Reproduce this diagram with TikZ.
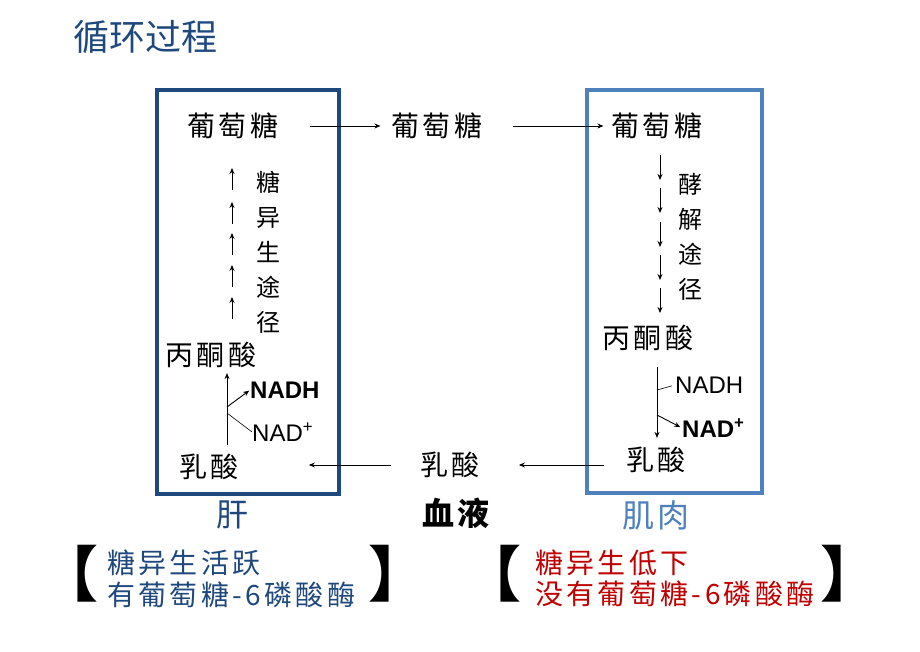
\documentclass[tikz,border=0pt]{standalone}
\usepackage{fontspec}
\setsansfont{Liberation Sans}
\newfontfamily\cjk[LetterSpace=12]{Noto Sans CJK SC}
\newfontfamily\cjktitle{Noto Sans CJK SC}
\usetikzlibrary{arrows.meta}
\definecolor{liverblue}{RGB}{31,73,125}
\definecolor{muscleblue}{RGB}{79,129,189}
\definecolor{lowred}{RGB}{192,0,0}

\begin{document}
\begin{tikzpicture}[x=1pt, y=-1pt, inner sep=0pt,
    chem/.style={font=\cjk\fontsize{28}{30}\selectfont},
    route/.style={font=\cjk\fontsize{24}{35}\selectfont, align=center},
    nad/.style={font=\sffamily\fontsize{24}{28}\selectfont, anchor=west},
    nadb/.style={font=\sffamily\bfseries\fontsize{24}{28}\selectfont, anchor=west},
    organ/.style={font=\cjk\fontsize{32}{36}\selectfont},
    note/.style={font=\cjk\fontsize{28}{32}\selectfont, anchor=west},
    brk/.style={font=\cjktitle\bfseries\fontsize{60}{60}\selectfont},
    arr/.style={-{Stealth[length=6pt,width=5pt]}, line width=0.9pt}]
    \useasboundingbox (0,0) rectangle (920,652);

    \node[font=\cjktitle\fontsize{36}{40}\selectfont, text=liverblue] (title) at (145,37) {循环过程};

    % organs
    \draw[liverblue, line width=3.5pt] (157,90) rectangle (339,494);
    \draw[muscleblue, line width=3.5pt] (587,90) rectangle (762,493);

    \node[chem] (gluL) at (233,126) {葡萄糖};
    \node[chem] (gluM) at (437,126) {葡萄糖};
    \node[chem] (gluR) at (657,126) {葡萄糖};
    \node[chem] (pyrL) at (211,355) {丙酮酸};
    \node[chem] (pyrR) at (648,338) {丙酮酸};
    \node[chem] (lacL) at (209,467) {乳酸};
    \node[chem] (lacM) at (450,465) {乳酸};
    \node[chem] (lacR) at (656,460) {乳酸};

    \node[route] (gng) at (268,252) {糖\\异\\生\\途\\径};
    \node[route] (gly) at (690,237) {酵\\解\\途\\径};

    \node[nadb] (nadhL) at (250,390) {NADH};
    \node[nad] (nadL) at (252,432) {NAD\textsuperscript{+}};
    \node[nad] (nadhR) at (675,385) {NADH};
    \node[nadb] (nadR) at (682,428) {NAD\textsuperscript{+}};

    \node[organ, text=liverblue] (liver) at (232,515) {肝};
    \node[organ, font=\cjk\bfseries\fontsize{32}{36}\selectfont] (blood) at (456,513) {血液};
    \node[organ, text=muscleblue] (muscle) at (656,515) {肌肉};

    \node[note, text=liverblue] (liverup) at (107,563) {糖异生活跃};
    \node[note, text=liverblue] (liverg6p) at (107,595) {有葡萄糖-6磷酸酶};
    \node[note, text=lowred] (muscleup) at (535,563) {糖异生低下};
    \node[note, text=lowred] (muscleg6p) at (535,594) {没有葡萄糖-6磷酸酶};

    \node[brk] (lbrkL) at (68,574) {【};
    \node[brk] (rbrkL) at (398,574) {】};
    \node[brk] (lbrkR) at (491,574) {【};
    \node[brk] (rbrkR) at (850,574) {】};

    % blood transport
    \draw[arr, shorten <=31pt, shorten >=11pt] (gluL.east) -- (gluM.west);
    \draw[arr, shorten <=30pt, shorten >=8pt] (gluM.east) -- (gluR.west);
    \draw[arr, shorten <=29pt, shorten >=70pt] (lacM.west) -- (lacL.east |- lacM.west);
    \draw[arr, shorten <=22pt, shorten >=39pt] (lacR.west |- lacM.east) -- (lacM.east);

    % pathways
    \foreach \y in {168,202,233,265,297}
        \draw[arr] (232,\y+22) -- (232,\y);
    \foreach \y in {155,188,222,255,288}
        \draw[arr] (660,\y) -- (660,\y+25);

    \draw[arr, shorten <=9pt, shorten >=5pt] ([xshift=18pt]lacL.north) -- ([xshift=16pt]pyrL.south);
    \draw[arr, shorten <=16pt, shorten >=9pt] ([xshift=9pt]pyrR.south) -- ([xshift=1pt]lacR.north);

    \coordinate (forkL1) at (227,407);
    \coordinate (forkL2) at (227,413);
    \coordinate (forkR1) at (657,390);
    \coordinate (forkR2) at (657,415);
    \draw[arr, shorten >=1pt] (forkL1) -- (nadhL.west);
    \draw[line width=0.6pt] (forkL2) -- (nadL.west);
    \draw[line width=0.6pt, shorten >=3pt] (forkR1) -- (nadhR.west);
    \draw[arr, shorten >=2pt] (forkR2) -- (nadR.west);
\end{tikzpicture}
\end{document}
